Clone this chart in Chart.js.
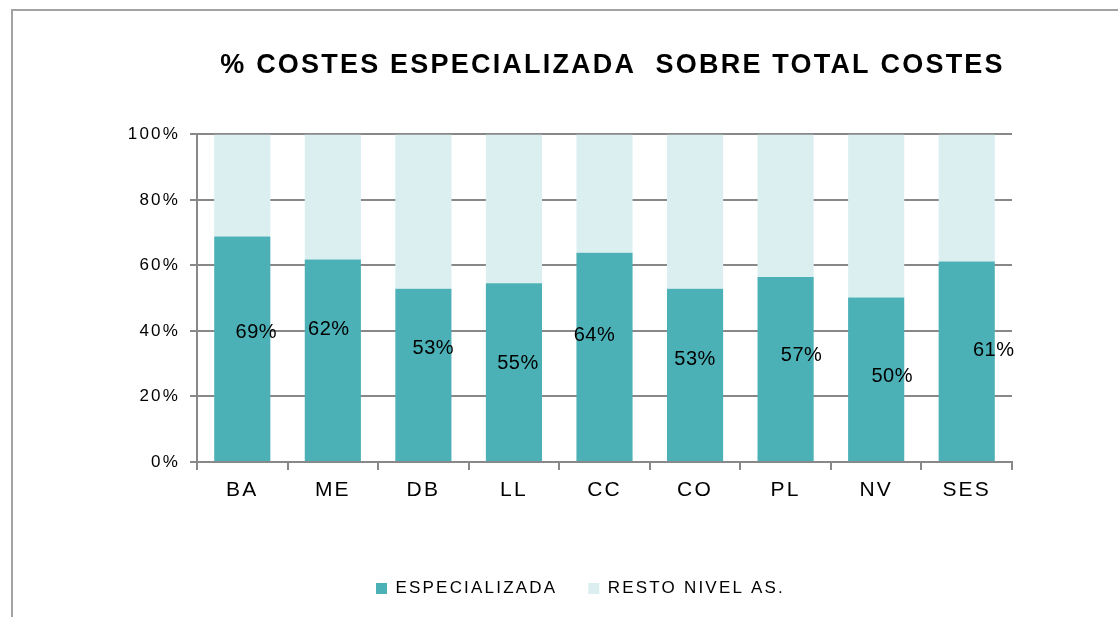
<!DOCTYPE html>
<html>
<head>
<meta charset="utf-8">
<script src="https://cdn.jsdelivr.net/npm/chart.js@4/dist/chart.umd.min.js"></script>
<style>
  body { margin: 0; background: #fff; }
  #wrap { position: relative; width: 1118px; height: 617px; overflow: hidden; }
  #frame { position: absolute; left: 11px; top: 9px; right: -10px; bottom: -10px;
           border-top: 2px solid #a3a3a3; border-left: 2px solid #a3a3a3; }
  #chart { position: absolute; left: 0; top: 0; }
</style>
</head>
<body>
<div id="wrap">
  <div id="frame"></div>
  <canvas id="chart" width="1118" height="617"></canvas>
</div>
<script>
// Data
const categories = ['BA', 'ME', 'DB', 'LL', 'CC', 'CO', 'PL', 'NV', 'SES'];
const especializada = [68.8, 61.8, 52.9, 54.6, 63.9, 52.9, 56.5, 50.2, 61.2];
const restoNiveles = [31.2, 38.2, 47.1, 45.4, 36.1, 47.1, 43.5, 49.8, 38.8];
const seriesNames = ['ESPECIALIZADA', 'RESTO NIVEL AS.'];
const yMax = 100;
const yStep = 20;

const FONT = "'Liberation Sans', Arial, sans-serif";
const GRID = '#888888';

// canvas letter spacing (text in the original is spaced out),
// plus a fixed legend height so the wide item gap does not eat the plot
const spacing = {
    id: 'spacing',
    beforeLayout(chart) {
        chart.ctx.letterSpacing = '2.2px';
        const lg = chart.legend;
        if (lg && !lg._patched) {
            const fit = lg.fit;
            lg.fit = function () { fit.call(this); this.height = 68; };
            lg._patched = true;
        }
    },
    afterLayout(chart) {
        // title sits a little right of the plot centre in the original
        const t = chart.titleBlock;
        if (t) { t.left += 8; t.right += 8; }
    },
    beforeDraw(chart) { chart.ctx.letterSpacing = '2.2px'; }
};

// value labels inside the teal bars, nudged like the original
const valueLabels = {
    id: 'valueLabels',
    afterDatasetsDraw(chart, args, opts) {
        const ctx = chart.ctx;
        const meta = chart.getDatasetMeta(0);
        ctx.save();
        ctx.letterSpacing = '0.5px';
        ctx.font = '20px ' + FONT;
        ctx.fillStyle = '#000';
        ctx.textAlign = 'center';
        ctx.textBaseline = 'middle';
        meta.data.forEach((bar, i) => {
            const n = opts.nudge[i] || [0, 0];
            const mid = (bar.y + bar.base) / 2;
            ctx.fillText(Math.round(especializada[i]) + '%', bar.x + n[0], mid + n[1]);
        });
        ctx.restore();
    }
};

const ctx = document.getElementById('chart').getContext('2d');

new Chart(ctx, {
    type: 'bar',
    data: {
        labels: categories,
        datasets: [
            {
                label: seriesNames[0],
                data: especializada,
                backgroundColor: '#4BB1B6',
                barPercentage: 0.62,
                categoryPercentage: 1
            },
            {
                label: seriesNames[1],
                data: restoNiveles,
                backgroundColor: '#DBEFF1',
                barPercentage: 0.62,
                categoryPercentage: 1
            }
        ]
    },
    options: {
        responsive: false,
        animation: false,
        layout: { padding: { left: 43, right: 0, top: 0, bottom: 0 } },
        plugins: {
            title: {
                display: true,
                text: '% COSTES ESPECIALIZADA  SOBRE TOTAL COSTES',
                fullSize: false,
                color: '#000',
                font: { family: FONT, size: 27, weight: 'bold' },
                padding: { top: 49, bottom: 53 }
            },
            legend: {
                display: true,
                position: 'bottom',
                labels: {
                    color: '#000',
                    font: { family: FONT, size: 17 },
                    boxWidth: 11,
                    boxHeight: 11,
                    padding: 31
                }
            },
            tooltip: { enabled: false },
            valueLabels: {
                nudge: [[14, -16], [-4, -31], [10, -26], [4, -9], [-10, -21], [0, -15], [16, -13], [16, -3], [27, -11]]
            }
        },
        scales: {
            x: {
                stacked: true,
                offset: true,
                grid: { display: true, drawOnChartArea: false, offset: true, tickLength: 8, color: GRID, lineWidth: 2 },
                border: { display: true, color: GRID, width: 2 },
                ticks: { color: '#000', font: { family: FONT, size: 21 }, padding: 8 },
                afterFit(s) { s.height = 87; }
            },
            y: {
                stacked: true,
                min: 0,
                max: yMax,
                grid: { color: GRID, lineWidth: 2, tickLength: 7 },
                border: { display: true, color: GRID, width: 2 },
                ticks: {
                    stepSize: yStep,
                    color: '#000',
                    font: { family: FONT, size: 17 },
                    padding: 10,
                    callback: v => v + '%'
                },
                afterFit(s) { s.width = 154; }
            },
            pad: {
                type: 'linear',
                position: 'right',
                display: true,
                grid: { display: false },
                border: { display: false },
                ticks: { display: false },
                afterFit(s) { s.width = 106; }
            }
        }
    },
    plugins: [spacing, valueLabels]
});
</script>
</body>
</html>
